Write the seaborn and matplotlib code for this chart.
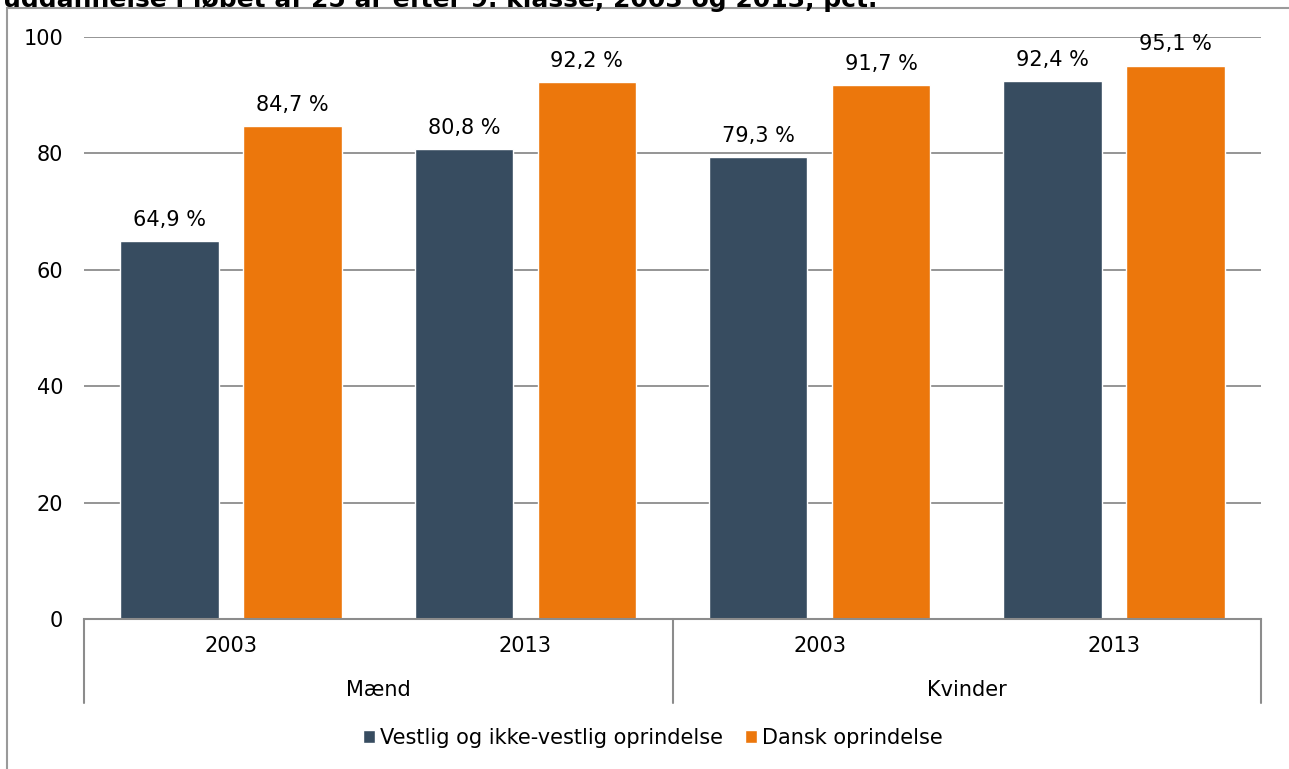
import pandas as pd
import matplotlib.pyplot as plt
import seaborn as sns
from matplotlib.patches import Rectangle

# data
groups = ['Mænd', 'Mænd', 'Kvinder', 'Kvinder']
years = ['2003', '2013', '2003', '2013']
vestlig = [64.9, 80.8, 79.3, 92.4]
dansk = [84.7, 92.2, 91.7, 95.1]
series = ['Vestlig og ikke-vestlig oprindelse', 'Dansk oprindelse']
title = 'uddannelse i løbet af 25 år efter 9. klasse, 2003 og 2013, pct.'

slots = [g + ' ' + y for g, y in zip(groups, years)]
df = pd.DataFrame({
    'slot': slots * 2,
    'serie': [series[0]] * 4 + [series[1]] * 4,
    'value': vestlig + dansk,
})

sns.set_theme(style="white")
plt.rcParams['font.family'] = ['DejaVu Sans']
plt.rcParams['text.color'] = '#000000'
plt.rcParams['xtick.color'] = '#000000'
plt.rcParams['ytick.color'] = '#000000'

fs = 15

fig = plt.figure(figsize=(12.89, 7.69), dpi=100)
ax = fig.add_axes([84 / 1289, 150 / 769, (1261 - 84) / 1289, (619 - 37) / 769])

colors = ['#374C60', '#EC770C']
sns.barplot(data=df, x='slot', y='value', hue='serie', palette=colors,
            width=0.836, gap=0.2, saturation=1, ax=ax, legend=True)

for c in ax.containers:
    ax.bar_label(c, labels=[f"{v:.1f} %".replace('.', ',') for v in c.datavalues],
                 padding=8, fontsize=fs, color='#000000')

ax.set_xlim(-0.5, 3.5)
ax.set_ylim(0, 100)
ax.set_yticks(range(0, 101, 20))
ax.tick_params(axis='y', labelsize=fs, pad=15, length=0)
ax.yaxis.grid(True, color='#8c8c8c', linewidth=1.3)
ax.set_axisbelow(True)
ax.set_xticks(range(4))
ax.set_xticklabels(years, fontsize=fs)
ax.tick_params(axis='x', length=0, pad=12)
ax.set_xlabel('')
ax.set_ylabel('')

for s in ['top', 'right', 'left']:
    ax.spines[s].set_visible(False)
ax.spines['bottom'].set_color('#8c8c8c')
ax.spines['bottom'].set_linewidth(1.5)

# category group separators and labels
tr = ax.get_xaxis_transform()
for x in [-0.5, 1.5, 3.5]:
    ax.plot([x, x], [0, -84 / 582], color='#8c8c8c', lw=1.5, transform=tr, clip_on=False)
for x, g in [(0.5, 'Mænd'), (2.5, 'Kvinder')]:
    ax.text(x, -71 / 582, g, transform=tr, ha='center', va='center', fontsize=fs)

handles, labels = ax.get_legend_handles_labels()
ax.legend(handles, labels, loc='center', bbox_to_anchor=(653 / 1289, 31 / 769),
          bbox_transform=fig.transFigure, ncol=2, frameon=False, fontsize=fs,
          handlelength=0.58, handleheight=0.58, handletextpad=0.25, columnspacing=1.05)

# outer frame and clipped title
fig.patches.append(Rectangle((7 / 1289, -0.1), 1.2, 1 - 8 / 769 + 0.1, transform=fig.transFigure,
                             fill=False, edgecolor='#9a9a9a', lw=1.5))
fig.text(3 / 1289, 1 - 7 / 769, title, fontsize=18, fontweight='bold', va='baseline', ha='left')

fig.savefig('out.png', dpi=100)
